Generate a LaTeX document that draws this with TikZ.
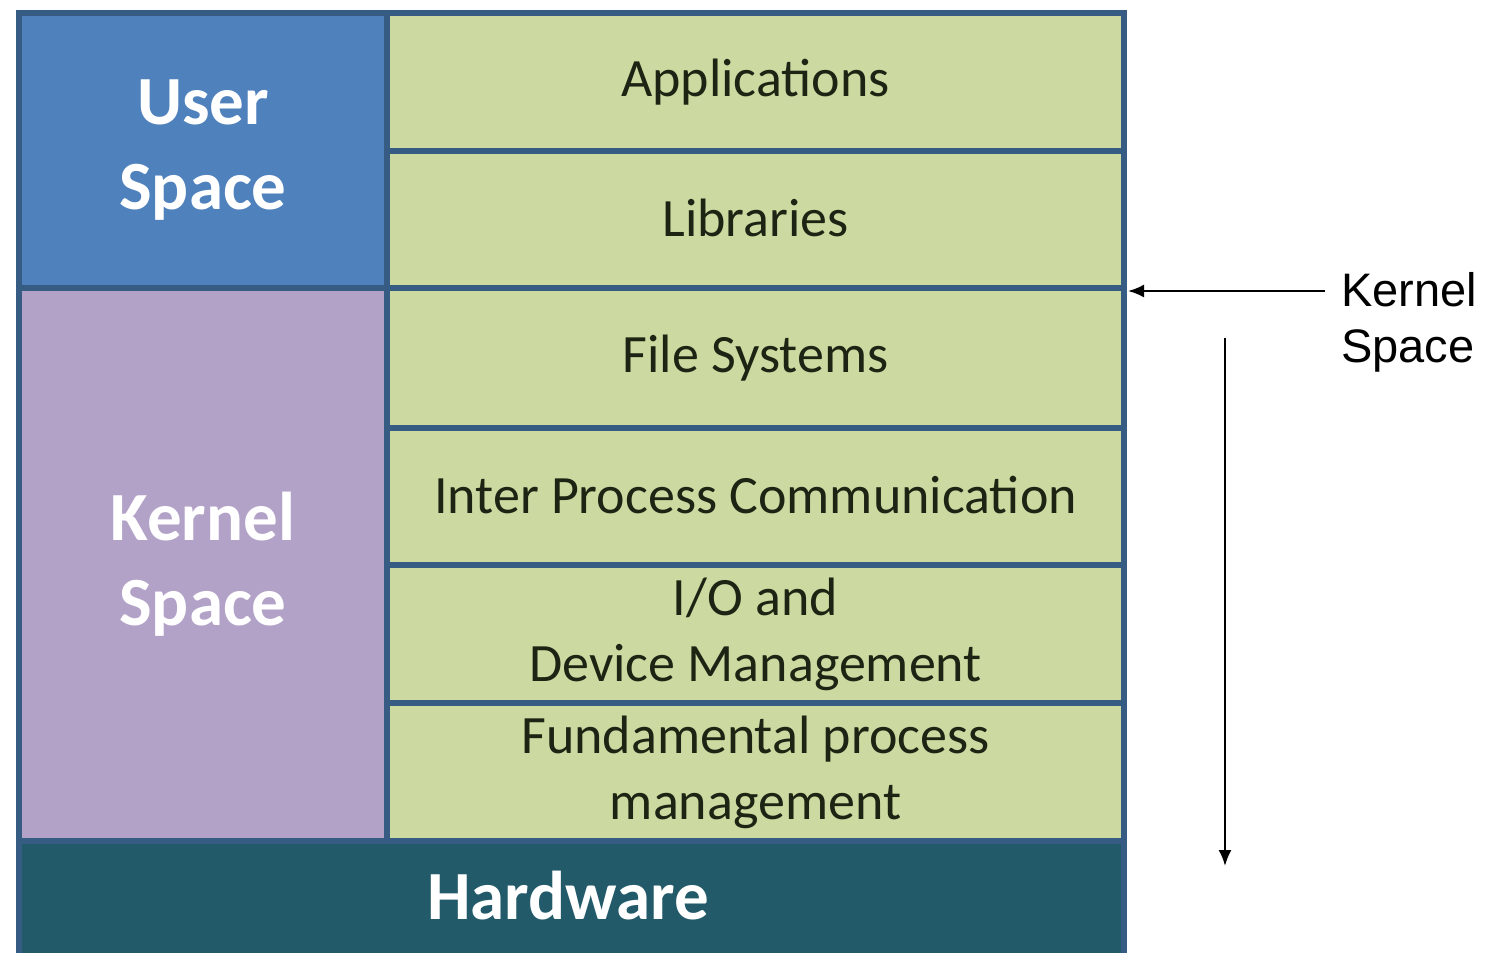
\documentclass[tikz,border=0pt]{standalone}
\usepackage{fontspec}
\setmainfont{Carlito}
\newfontfamily\arialfont{Liberation Sans}
\usetikzlibrary{arrows.meta}
\definecolor{userblue}{HTML}{4F81BD}
\definecolor{kernpurple}{HTML}{B3A2C7}
\definecolor{layergreen}{HTML}{CCD9A0}
\definecolor{hwteal}{HTML}{225A6A}
\definecolor{framecol}{HTML}{375C83}
\definecolor{layertext}{HTML}{1E2414}
\tikzset{
  cell/.style={draw=framecol, line width=6pt, anchor=north west, inner sep=0pt, align=center},
  layer/.style={cell, fill=layergreen, minimum width=737pt, text=layertext,
     font=\fontsize{54}{66}\selectfont},
  side/.style={cell, minimum width=368pt, text=white, font=\bfseries\fontsize{69}{85}\selectfont},
  annot/.style={font=\arialfont\fontsize{47}{56}\selectfont, align=left, inner sep=0pt, anchor=north west},
  pointer/.style={line width=2.2pt, -{Latex[length=16pt,width=13pt]}}
}
\begin{document}
\begin{tikzpicture}[x=1pt,y=-1pt]
\useasboundingbox[fill=white] (0,0) rectangle (1489,953);
% left column
\node[side, fill=userblue, minimum height=275pt] (user) at (16,10) {User\\Space};
\node[side, fill=kernpurple, minimum height=553pt] (kern) at (16,285) {Kernel\\Space};
% layers
\node[layer, minimum height=138pt] (app) at (384,10) {Applications};
\node[layer, minimum height=137pt] (lib) at (384,148) {\raisebox{3pt}{Libraries}};
\node[layer, minimum height=140pt] (fs) at (384,285) {File Systems};
\node[layer, minimum height=137pt] (ipc) at (384,425) {\raisebox{3pt}{Inter Process Communication}};
\node[layer, minimum height=138pt] (io) at (384,562) {I/O and\\Device Management};
\node[layer, minimum height=138pt] (fpm) at (384,700) {Fundamental process\\management};
% hardware
\node[cell, fill=hwteal, minimum width=1105pt, minimum height=120pt] (hw) at (16,838) {};
\node[text=white, font=\bfseries\fontsize{69}{85}\selectfont] (hwtext) at (568,896) {Hardware};
% annotation
\node[annot] (ktext) at (1341,272) {Kernel\\Space};
\coordinate (hstart) at (1325,291);
\coordinate (hend) at (1128,291);
\coordinate (vstart) at (1225,338);
\coordinate (vend) at (1225,866);
\draw[pointer] (hstart) -- (hend);
\draw[pointer] (vstart) -- (vend);
\end{tikzpicture}
\end{document}
